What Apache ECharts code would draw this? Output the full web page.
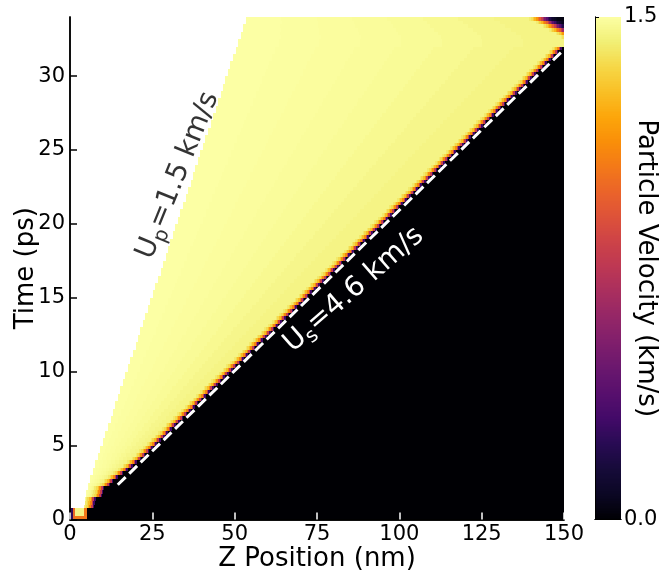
<!DOCTYPE html>
<html><head><meta charset="utf-8">
<script src="https://cdn.jsdelivr.net/npm/echarts@6/dist/echarts.min.js"></script>
<style>html,body{margin:0;padding:0;background:#fff}#c{width:661px;height:574px}</style>
</head><body><div id="c"></div>
<script>
// ---------------- data ----------------
const zRange = [0, 150];          // Z position (nm)
const tRange = [0, 34];           // time (ps)
const xTickStep = 25;
const yTickStep = 5;
const cbarRange = [0, 1.5];       // particle velocity (km/s)

const rowStep = 0.25;             // ps per data row
// back (piston) edge of the material, one value per 0.5 ps (nm)
const pistonEdge = [null,4.6,4.6,4.8,5.4,6.2,7.0,7.7,8.5,9.2,10.0,10.7,11.5,12.3,13.0,13.8,14.5,15.3,16.1,16.8,
 17.6,18.3,19.1,19.9,20.6,21.4,22.1,22.9,23.7,24.4,25.2,25.9,26.7,27.5,28.2,29.0,29.7,30.5,31.3,32.0,
 32.8,33.5,34.3,35.1,35.8,36.6,37.3,38.1,38.9,39.6,40.4,41.1,41.9,42.7,43.4,44.2,44.9,45.7,46.5,47.2,
 48.0,48.7,49.5,50.3,51.0,51.8,52.5,53.3];
// shock front (left edge of unshocked material), one value per 0.25 ps row (nm)
const shockFront = [null,null,null,7.4,7.6,7.8,9.8,10.1,10.4,12.2,13.2,14.6,16.2,17.6,19.0,20.3,21.7,
 22.9,24.1,25.2,26.4,27.5,28.7,29.8,31.0,32.1,33.3,34.4,35.6,36.7,37.9,39.0,40.2,41.3,42.5,43.6,44.8,
 45.9,47.1,48.2,49.4,50.5,51.7,52.8,54.0,55.1,56.3,57.4,58.6,59.7,60.9,62.0,63.2,64.3,65.5,66.6,67.8,
 68.9,70.1,71.2,72.4,73.5,74.7,75.8,77.0,78.1,79.3,80.4,81.6,82.7,83.9,85.0,86.2,87.3,88.5,89.6,90.8,
 91.9,93.1,94.2,95.4,96.5,97.7,98.8,100.0,101.1,102.3,103.4,104.6,105.7,106.9,108.0,109.2,110.3,111.5,
 112.6,113.8,114.9,116.1,117.2,118.4,119.5,120.7,121.8,123.0,124.1,125.3,126.4,127.6,128.7,129.9,131.0,
 132.2,133.3,134.5,135.6,136.8,137.9,139.1,140.2,141.4,142.5,143.7,144.8,146.0,147.1,148.3,149.4,
 null,null,null,null,null,null,null,null];
// release wave from the free surface: [row start time (ps), front position (nm)]
const releaseFront = [[32.5,149.0],[32.75,147.5],[33.0,145.5],[33.25,143.5],[33.5,141.5],[33.75,139.5]];
// velocity just behind the shock, going back from the front in 0.5 nm steps (km/s)
const shockBand = [0.3, 0.8, 1.1, 1.27, 1.36, 1.41];
const bandStep = 0.5;
// plateau velocity from the piston edge to the shock band (km/s)
const plateau = [1.5, 1.495, 1.49, 1.485, 1.48, 1.47, 1.46, 1.45];
// velocity going into the release fan, 0.5 nm steps (km/s)
const releaseBand = [1.42, 1.38, 1.32, 1.25, 1.15, 1.05, 0.95, 0.8, 0.65, 0.5, 0.38, 0.28, 0.2, 0.14, 0.1, 0.07, 0.05];
const releaseRest = 0.03;
// first 0.75 ps at the impact surface: [z0, z1, t0, t1, velocity]
const impactCells = [[0,0.8,0,0.75,0.25],[0.8,1.6,0,0.75,1.0],[1.6,4.4,0.25,0.75,1.45],
 [1.6,4.4,0,0.25,1.05],[4.4,5.2,0,0.75,1.05],[5.2,150,0,0.75,0.0]];
// fitted shock trajectory (dashed line): [z, t]
const shockFit = [[14.5, 2.35], [150, 31.8]];

// ---------------- build the cell table ----------------
const cells = impactCells.slice();
const nRows = Math.round((tRange[1] - tRange[0]) / rowStep);
for (let i = 0; i < nRows; i++) {
  const t0 = i * rowStep, t1 = t0 + rowStep;
  if (t0 < 0.75) continue;
  const zp = pistonEdge[Math.floor(t0 / 0.5 + 1e-9)];
  const zs = shockFront[i];
  const rel = releaseFront.find(r => Math.abs(r[0] - t0) < 1e-6);
  let zEnd = zRange[1];
  if (zs != null) {
    cells.push([zs, zRange[1], t0, t1, 0.0]);
    for (let k = 0; k < shockBand.length; k++) {
      cells.push([zs - (k + 1) * bandStep, zs - k * bandStep, t0, t1, shockBand[k]]);
    }
    zEnd = zs - shockBand.length * bandStep;
  } else if (rel) {
    const zr = rel[1];
    let z = zr;
    for (let k = 0; k < releaseBand.length && z < zRange[1]; k++) {
      cells.push([z, Math.min(z + bandStep, zRange[1]), t0, t1, releaseBand[k]]);
      z += bandStep;
    }
    if (z < zRange[1]) cells.push([z, zRange[1], t0, t1, releaseRest]);
    zEnd = zr;
  }
  const w = (zEnd - zp) / plateau.length;
  for (let k = 0; k < plateau.length; k++) {
    cells.push([zp + k * w, zp + (k + 1) * w, t0, t1, plateau[k]]);
  }
}
// colour-bar strip
const cbarCells = [];
const nb = 300;
for (let k = 0; k < nb; k++) {
  const v0 = cbarRange[0] + (cbarRange[1] - cbarRange[0]) * k / nb;
  const v1 = cbarRange[0] + (cbarRange[1] - cbarRange[0]) * (k + 1) / nb;
  cbarCells.push([0, 1, v0, v1, (v0 + v1) / 2]);
}

const inferno = ['#000004','#0b0724','#160b39','#280b53','#420a68','#570f6d','#6a176e','#7f1e6c',
 '#932667','#a82e5f','#bc3754','#cc4248','#dd513a','#ea632a','#f37819','#f98e09','#fca50a',
 '#f9bf25','#f6d746','#f1ef75','#fcffa4'];

function rectItem(params, api) {
  const p0 = api.coord([api.value(0), api.value(3)]);
  const p1 = api.coord([api.value(1), api.value(2)]);
  const x0 = Math.round(p0[0]), x1 = Math.round(p1[0]);
  const y0 = Math.round(p0[1]), y1 = Math.round(p1[1]);
  return {
    type: 'rect',
    shape: { x: x0, y: y0, width: x1 - x0, height: y1 - y0 },
    style: { fill: api.visual('color') }
  };
}

const FF = 'DejaVu Sans';
const chart = echarts.init(document.getElementById('c'), null, { renderer: 'canvas' });
chart.setOption({
  animation: false,
  backgroundColor: '#fff',
  textStyle: { fontFamily: FF },
  grid: [
    { left: 70, right: 97, top: 17, bottom: 54.5, containLabel: false, outerBoundsMode: 'none' },
    { left: 595, width: 26, top: 17, bottom: 54.5, containLabel: false, outerBoundsMode: 'none' }
  ],
  visualMap: {
    show: false, type: 'continuous', min: cbarRange[0], max: cbarRange[1],
    dimension: 4, seriesIndex: [0, 2], inRange: { color: inferno }
  },
  xAxis: [
    { gridIndex: 0, type: 'value', min: zRange[0], max: zRange[1], interval: xTickStep, position: 'bottom', z: 10,
      axisLine: { lineStyle: { color: '#000', width: 1.5 } },
      axisTick: { inside: true, length: 7, lineStyle: { color: '#fff', width: 1.5 } },
      axisLabel: { fontSize: 21, color: '#000', margin: 5, fontFamily: FF },
      splitLine: { show: false },
      name: 'Z Position (nm)', nameLocation: 'middle', nameGap: 27, nameMoveOverlap: false,
      nameTextStyle: { fontSize: 26, color: '#000', fontFamily: FF } },
    { gridIndex: 0, type: 'value', min: zRange[0], max: zRange[1], position: 'top', z: 10,
      axisLine: { lineStyle: { color: '#000', width: 1.5 } },
      axisTick: { show: false }, axisLabel: { show: false }, splitLine: { show: false } },
    { gridIndex: 1, type: 'value', min: 0, max: 1, position: 'bottom', z: 10,
      axisLine: { lineStyle: { color: '#000', width: 1 } },
      axisTick: { show: false }, axisLabel: { show: false }, splitLine: { show: false } },
    { gridIndex: 1, type: 'value', min: 0, max: 1, position: 'top', z: 10,
      axisLine: { lineStyle: { color: '#000', width: 1 } },
      axisTick: { show: false }, axisLabel: { show: false }, splitLine: { show: false } }
  ],
  yAxis: [
    { gridIndex: 0, type: 'value', min: tRange[0], max: tRange[1], interval: yTickStep, position: 'left', z: 10,
      axisLine: { lineStyle: { color: '#000', width: 1.5 } },
      axisTick: { inside: true, length: 7, lineStyle: { color: '#000', width: 1.5 } },
      axisLabel: { fontSize: 21, color: '#000', margin: 5, fontFamily: FF, showMaxLabel: false,
        formatter: v => (v % yTickStep === 0 ? String(v) : '') },
      splitLine: { show: false },
      name: 'Time (ps)', nameLocation: 'middle', nameGap: 31, nameRotate: 90, nameMoveOverlap: false,
      nameTextStyle: { fontSize: 26, color: '#000', fontFamily: FF } },
    { gridIndex: 0, type: 'value', min: tRange[0], max: tRange[1], position: 'right', z: 10,
      axisLine: { lineStyle: { color: '#000', width: 1.5 } },
      axisTick: { show: false }, axisLabel: { show: false }, splitLine: { show: false } },
    { gridIndex: 1, type: 'value', min: cbarRange[0], max: cbarRange[1], interval: cbarRange[1] - cbarRange[0],
      position: 'right', z: 10,
      axisLine: { lineStyle: { color: '#000', width: 1 } },
      axisTick: { length: 4, lineStyle: { color: '#000', width: 1 } },
      axisLabel: { fontSize: 21, color: '#000', margin: 3, align: 'left', fontFamily: FF, formatter: v => v.toFixed(1) },
      splitLine: { show: false },
      name: 'Particle Velocity (km/s)', nameLocation: 'middle', nameGap: 12, nameRotate: -90, nameMoveOverlap: false,
      nameTextStyle: { fontSize: 26, color: '#000', fontFamily: FF } },
    { gridIndex: 1, type: 'value', min: cbarRange[0], max: cbarRange[1], position: 'left', z: 10,
      axisLine: { lineStyle: { color: '#000', width: 1 } },
      axisTick: { show: false }, axisLabel: { show: false }, splitLine: { show: false } }
  ],
  series: [
    { type: 'custom', xAxisIndex: 0, yAxisIndex: 0, renderItem: rectItem, data: cells,
      encode: { x: [0, 1], y: [2, 3] }, silent: true, z: 1, progressive: 0 },
    { type: 'line', xAxisIndex: 0, yAxisIndex: 0, data: shockFit, showSymbol: false, silent: true, z: 5,
      lineStyle: { color: '#fff', width: 3, type: [11, 5] } },
    { type: 'custom', xAxisIndex: 2, yAxisIndex: 2, renderItem: rectItem, data: cbarCells,
      encode: { x: [0, 1], y: [2, 3] }, silent: true, z: 1, progressive: 0 },
    { type: 'scatter', xAxisIndex: 0, yAxisIndex: 0, symbolSize: 0, silent: true, z: 20,
      data: [[33.6, 23.2]],
      label: { show: true, position: 'inside', rotate: 68, formatter: '{n|U}{s|p}{n|=1.5 km/s}',
        color: '#000', textBorderWidth: 0,
        rich: { n: { fontSize: 28, color: '#000', fontFamily: FF, verticalAlign: 'top', lineHeight: 34 },
                s: { fontSize: 20, color: '#000', fontFamily: FF, verticalAlign: 'top', lineHeight: 34, padding: [12, 0, 0, 0] } } } },
    { type: 'scatter', xAxisIndex: 0, yAxisIndex: 0, symbolSize: 0, silent: true, z: 20,
      data: [[86.8, 15.4]],
      label: { show: true, position: 'inside', rotate: 41, formatter: '{n|U}{s|s}{n|=4.6 km/s}',
        color: '#fff', textBorderWidth: 0, opacity: 1,
        rich: { n: { fontSize: 28, color: '#fff', fontFamily: FF, verticalAlign: 'top', lineHeight: 34, textBorderWidth: 0 },
                s: { fontSize: 20, color: '#fff', fontFamily: FF, verticalAlign: 'top', lineHeight: 34, padding: [12, 0, 0, 0], textBorderWidth: 0 } } } }
  ]
});
</script>
</body></html>
